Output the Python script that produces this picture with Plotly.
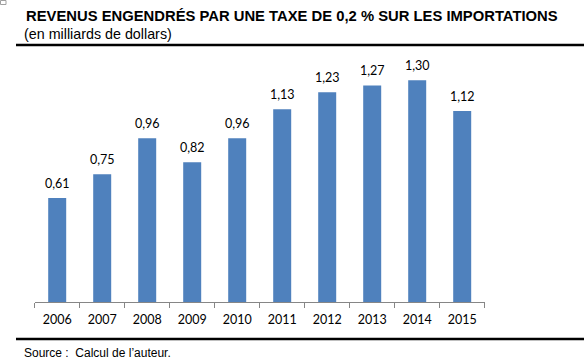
import plotly.graph_objects as go

years = ["2006", "2007", "2008", "2009", "2010", "2011", "2012", "2013", "2014", "2015"]
revenues = [0.61, 0.75, 0.96, 0.82, 0.96, 1.13, 1.23, 1.27, 1.30, 1.12]
labels = [f"{v:.2f}".replace(".", ",") for v in revenues]

W, H = 584, 361
def px(x):
    return x / W
def py(y):
    return (H - y) / H

LABEL_FONT = "Lato, 'Open Sans', sans-serif"

fig = go.Figure(go.Bar(
    x=years, y=revenues, width=0.4,
    marker=dict(color="#4F81BD", line=dict(width=0)),
    cliponaxis=False,
))

annotations = [
    dict(x=i, y=v, xref="x", yref="y", text=t, showarrow=False,
         yanchor="bottom", xanchor="center", yshift=5,
         font=dict(family=LABEL_FONT, size=12.5, color="#000000"))
    for i, (v, t) in enumerate(zip(revenues, labels))
]
annotations += [
    dict(text="<b>REVENUS ENGENDRÉS PAR UNE TAXE DE 0,2 % SUR LES IMPORTATIONS</b>",
         xref="paper", yref="paper", x=px(24), y=py(16), xanchor="left", yanchor="middle",
         showarrow=False, font=dict(family="Liberation Sans, Arial, sans-serif", size=14.8, color="black")),
    dict(text="(en milliards de dollars)",
         xref="paper", yref="paper", x=px(22), y=py(34), xanchor="left", yanchor="middle",
         showarrow=False, font=dict(family="Liberation Sans, Arial, sans-serif", size=14.3, color="black")),
    dict(text="Source :  Calcul de l’auteur.",
         xref="paper", yref="paper", x=px(22), y=py(353), xanchor="left", yanchor="middle",
         showarrow=False, font=dict(family="Liberation Sans, Arial, sans-serif", size=12, color="black")),
]

fig.update_layout(
    width=W, height=H,
    margin=dict(l=0, r=0, t=0, b=0),
    paper_bgcolor="white", plot_bgcolor="white",
    showlegend=False,
    bargap=0.6,
    xaxis=dict(
        domain=[px(34.7), px(484.7)],
        type="category",
        range=[-0.5, len(years) - 0.5],
        showline=True, linecolor="#868686", linewidth=1,
        ticks="outside", tickson="boundaries", ticklen=5, tickcolor="#868686",
        ticklabelstandoff=6,
        tickfont=dict(family=LABEL_FONT, size=12.5, color="#000000"),
        showgrid=False, zeroline=False,
    ),
    yaxis=dict(
        domain=[py(302), py(60)],
        range=[0, 242 / 170.5],
        visible=False, showgrid=False, zeroline=False,
    ),
    shapes=[
        dict(type="line", xref="paper", yref="paper", x0=px(16), x1=1, y0=py(45), y1=py(45),
             line=dict(color="black", width=2.5)),
        dict(type="line", xref="paper", yref="paper", x0=px(16), x1=1, y0=py(339), y1=py(339),
             line=dict(color="black", width=2.5)),
        dict(type="rect", xref="paper", yref="paper", x0=px(0.5), x1=px(6), y0=py(4.5), y1=py(0.5),
             line=dict(color="#a0a0a0", width=1)),
    ],
    annotations=annotations,
)

fig.write_html("out.html", config={"displayModeBar": False})
with open("out.html", encoding="utf-8") as f:
    html = f.read()
html = html.replace("<head>", "<head><style>html,body{margin:0;padding:0;overflow:hidden;}</style>", 1)
with open("out.html", "w", encoding="utf-8") as f:
    f.write(html)
